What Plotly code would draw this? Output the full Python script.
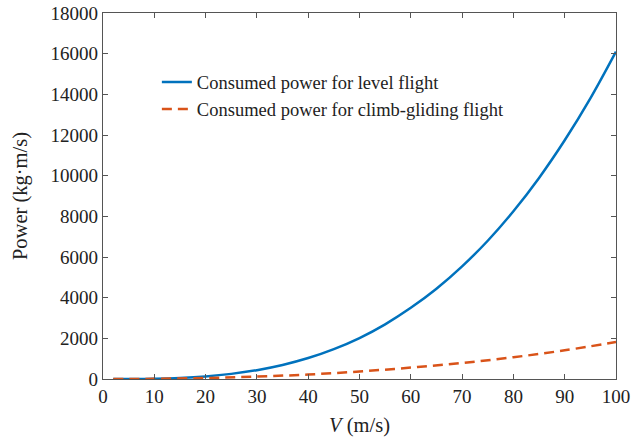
import plotly.graph_objects as go

V_level = [2, 5, 10, 15, 20, 25, 30, 35, 40, 45, 50, 55, 60, 65, 70, 75, 80, 85, 90, 95, 100]
P_level = [0, 2, 16, 54, 129, 252, 435, 690, 1030, 1470, 2015, 2690, 3500, 4440, 5540, 6800, 8250, 9890, 11740, 13800, 16100]

V_climb = [2, 10, 20, 30, 40, 50, 60, 70, 80, 90, 100]
P_climb = [0, 10, 50, 120, 220, 370, 560, 790, 1070, 1410, 1820]

x_ticks = [0, 10, 20, 30, 40, 50, 60, 70, 80, 90, 100]
y_ticks = [0, 2000, 4000, 6000, 8000, 10000, 12000, 14000, 16000, 18000]
y_ticktext = ["0", "2000", "4000", "6000", "8000", "10000", "12000", "14000", "16000", "18000"]

font_family = "Liberation Serif, Times New Roman, serif"

fig = go.Figure()
fig.add_trace(go.Scatter(
    x=V_level, y=P_level, mode="lines", line_shape="spline",
    name="Consumed power for level flight",
    line=dict(color="#0072BD", width=2.5),
))
fig.add_trace(go.Scatter(
    x=V_climb, y=P_climb, mode="lines", line_shape="spline",
    name="Consumed power for climb-gliding flight",
    line=dict(color="#D95319", width=2.5, dash="10px,6px"),
))

axis_common = dict(
    showline=True, linecolor="#555555", linewidth=1.2, mirror="ticks",
    ticks="inside", ticklen=5, tickcolor="#555555", showgrid=False, zeroline=False,
    automargin=False,
    tickfont=dict(family=font_family, size=19, color="#222222"),
)

fig.update_layout(
    template="none",
    width=631, height=439,
    margin=dict(l=103, r=15, t=13, b=60),
    paper_bgcolor="white", plot_bgcolor="white",
    font=dict(family=font_family, color="#222222"),
    xaxis=dict(range=[0, 100], tickvals=x_ticks,
               title=dict(text="<i>V</i> (m/s)", font=dict(family=font_family, size=20.5), standoff=11),
               **axis_common),
    yaxis=dict(range=[0, 18000], tickvals=y_ticks, ticktext=y_ticktext,
               title=dict(text="Power (kg·m/s)", font=dict(family=font_family, size=20.5), standoff=17),
               **axis_common),
    legend=dict(x=0.105, y=0.862, xanchor="left", yanchor="top",
                bgcolor="rgba(0,0,0,0)", borderwidth=0,
                font=dict(family=font_family, size=18.5, color="#222222"),
                tracegroupgap=0),
    showlegend=True,
)

fig.write_html("out.html")
